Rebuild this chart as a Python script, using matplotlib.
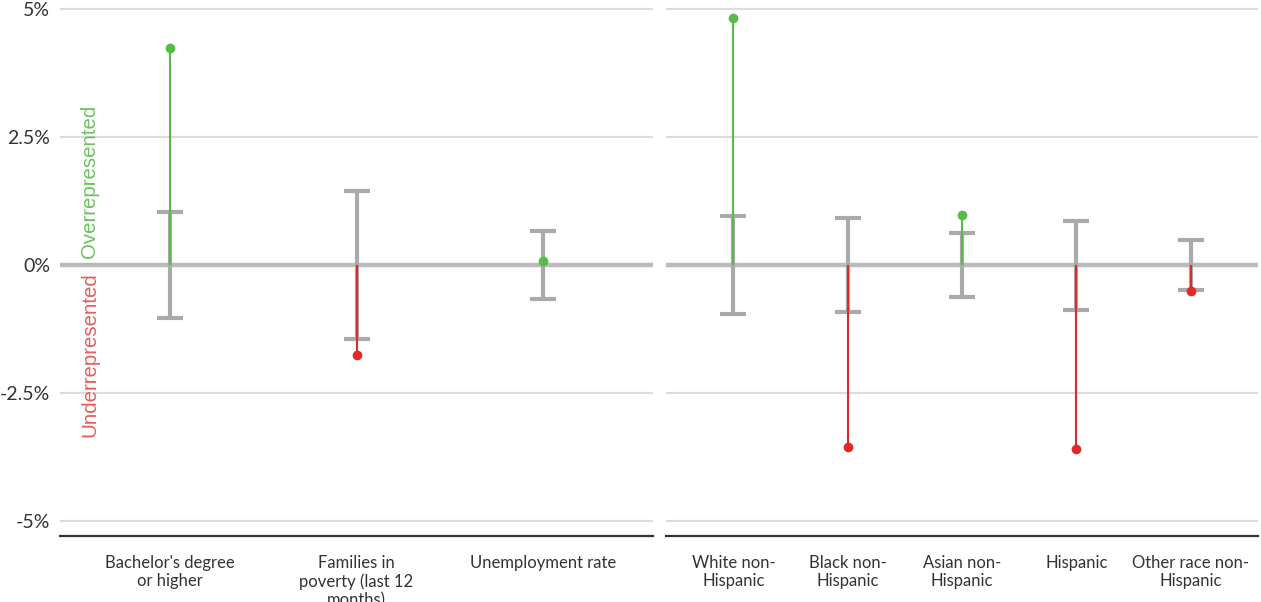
import matplotlib
matplotlib.use("Agg")
import matplotlib.pyplot as plt

# Socioeconomic indicators
econ_labels = ["Bachelor's degree\nor higher", "Families in\npoverty (last 12\nmonths)", "Unemployment rate"]
econ_diff = [4.24, -1.76, 0.08]
econ_moe = [1.03, 1.44, 0.67]

# Race / ethnicity groups
race_labels = ["White non-\nHispanic", "Black non-\nHispanic", "Asian non-\nHispanic", "Hispanic", "Other race non-\nHispanic"]
race_diff = [4.82, -3.55, 0.98, -3.59, -0.50]
race_moe = [0.95, 0.92, 0.62, 0.87, 0.48]

y_ticks = [-5, -2.5, 0, 2.5, 5]
y_ticklabels = ["-5%", "-2.5%", "0%", "2.5%", "5%"]

GREEN = "#55bd45"
RED = "#e02a2a"
GREEN_TXT = "#6cc35e"
RED_TXT = "#e85d5d"
CI_GRAY = "#aaaaaa"
GRID = "#dddddd"
ZERO = "#bbbbbb"
TXT = "#333333"

plt.rcParams["font.family"] = ["Lato", "DejaVu Sans"]

W, H = 1261, 602
fig = plt.figure(figsize=(W / 100, H / 100), dpi=100)

y_lo, y_hi = -5.29, 5.176
ax_bottom = 66 / H
ax_height = 536 / H
ax1 = fig.add_axes([60 / W, ax_bottom, 593 / W, ax_height])
ax2 = fig.add_axes([666 / W, ax_bottom, 592 / W, ax_height])


def draw_panel(ax, labels, diffs, moes):
    n = len(labels)
    xs = list(range(n))
    pad = 0.59
    ax.set_xlim(-pad, n - 1 + pad)
    ax.set_ylim(y_lo, y_hi)
    for y in y_ticks:
        if y == 0:
            continue
        ax.axhline(y, color=GRID, lw=1.6, zorder=0)
    ax.axhline(0, color=ZERO, lw=3.2, zorder=1)
    ax.errorbar(xs, [0] * n, yerr=moes, fmt="none", ecolor=CI_GRAY,
                elinewidth=3.0, capsize=9.5, capthick=3.0, zorder=2)
    for x, d in zip(xs, diffs):
        c = GREEN if d >= 0 else RED
        ax.plot([x, x], [0, d], color=c, lw=1.5, zorder=3, solid_capstyle="butt")
        ax.plot([x], [d], "o", color=c, ms=7, mec="none", zorder=4)
    ax.tick_params(axis="x", length=0, pad=13.5, labelsize=12, labelcolor=TXT)
    ax.set_xticks(xs)
    ax.set_xticklabels(labels, linespacing=1.3, va="top")
    for s in ["top", "left", "right"]:
        ax.spines[s].set_visible(False)
    ax.spines["bottom"].set_color(TXT)
    ax.spines["bottom"].set_linewidth(1.6)
    ax.spines["bottom"].set_position(("data", y_lo))


draw_panel(ax1, econ_labels, econ_diff, econ_moe)
draw_panel(ax2, race_labels, race_diff, race_moe)

ax1.tick_params(axis="y", length=0, pad=7, labelsize=14, labelcolor=TXT)
ax1.set_yticks(y_ticks)
ax1.set_yticklabels(y_ticklabels)
ax2.tick_params(axis="y", length=0)
ax2.set_yticks(y_ticks)
ax2.set_yticklabels([])

label_x = 30 / 593
ax1.text(label_x, 0.14, "Overrepresented", transform=ax1.get_yaxis_transform(),
         rotation=90, ha="center", va="bottom", color=GREEN_TXT, fontsize=14.7,
         family=["Liberation Sans", "DejaVu Sans"])
ax1.text(label_x, -0.14, "Underrepresented", transform=ax1.get_yaxis_transform(),
         rotation=90, ha="center", va="top", color=RED_TXT, fontsize=14.7,
         family=["Liberation Sans", "DejaVu Sans"])

fig.savefig("out.png", dpi=100)
